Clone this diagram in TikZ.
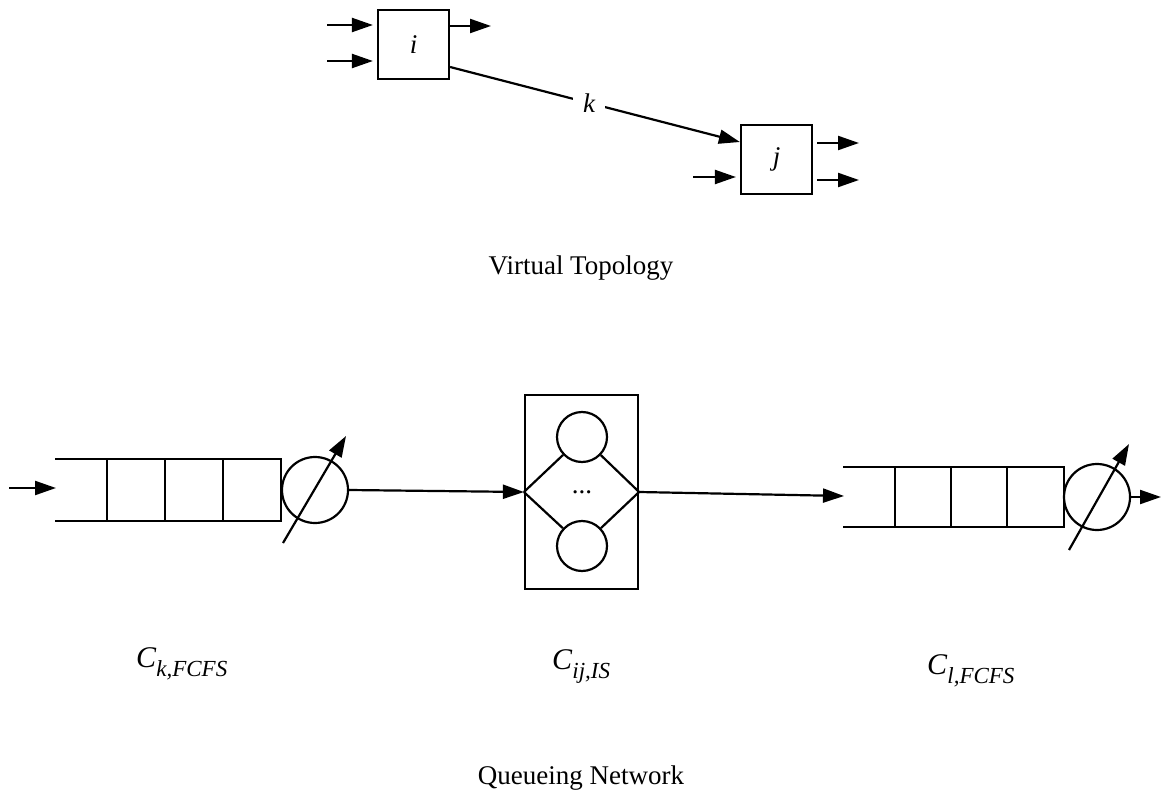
\documentclass[tikz,border=0pt]{standalone}
\usepackage{fontspec}
\setmainfont{Liberation Serif}
\usetikzlibrary{arrows.meta}
\newcommand\qlabel[2]{\textit{#1}\raisebox{-9pt}{\fontsize{23}{25}\selectfont\textit{#2}}}
\begin{document}
\begin{tikzpicture}[x=1pt,y=-1pt,line width=2.2pt,
  tip/.style={-{Triangle[length=21pt,width=14pt]}},
  nodebox/.style={draw,minimum width=71pt,minimum height=69pt,inner sep=0pt,
    font=\fontsize{27}{30}\selectfont\itshape},
  srv/.style={draw,circle,minimum size=66pt,inner sep=0pt},
  isrv/.style={draw,circle,minimum size=50pt,inner sep=0pt},
  caption/.style={font=\fontsize{27}{30}\selectfont},
  qtext/.style={font=\fontsize{30}{32}\selectfont,inner sep=0pt,anchor=base west}]
\useasboundingbox (0,0) rectangle (1161,805);

% ---- virtual topology ----
\node[nodebox] (i) at (413.5,44.5) {i};
\node[nodebox] (j) at (776.5,159.5) {j};

\coordinate (iin1) at (327,25);
\coordinate (iin2) at (327,61);
\coordinate (iout) at (491,26);
\draw[tip,shorten >=4pt] (iin1) -- ([yshift=19.5pt]i.west);
\draw[tip,shorten >=4pt] (iin2) -- ([yshift=-16.5pt]i.west);
\draw[tip] ([yshift=18.5pt]i.east) -- (iout);

\draw[tip] ([yshift=-22.5pt]i.east) --
  node[pos=0.48,fill=white,inner xsep=10pt,inner ysep=2pt,
       font=\fontsize{27}{30}\selectfont\itshape] (k) {k}
  ([yshift=17.5pt]j.west);

\coordinate (jin) at (693,177);
\coordinate (jout1) at (859,143);
\coordinate (jout2) at (859,180);
\draw[tip,shorten >=4pt] (jin) -- ([yshift=-17.5pt]j.west);
\draw[tip,shorten <=4pt] ([yshift=16.5pt]j.east) -- (jout1);
\draw[tip,shorten <=4pt] ([yshift=-20.5pt]j.east) -- (jout2);

\node[caption] (vt) at (581,268) {Virtual Topology};

% ---- left FCFS queue ----
\draw (55,459) -- (281,459) -- (281,521) -- (55,521);
\foreach \x in {107,165,223} \draw (\x,459) -- (\x,521);
\node[srv] (sa) at (315,490) {};
\coordinate (ain) at (9,488);
\coordinate (aq) at (56,488);
\draw[tip] (ain) -- (aq);
\coordinate (adiag0) at (283,543);
\coordinate (adiag1) at (346,436);
\draw[tip] (adiag0) -- (adiag1);

% ---- infinite server station ----
\node[draw,minimum width=113pt,minimum height=194pt,inner sep=0pt] (is) at (581.5,492) {};
\node[isrv] (up) at (582,437) {};
\node[isrv] (lo) at (582,546) {};
\coordinate (cl) at (is.west);
\coordinate (cr) at (is.east);
\draw (cl) -- (up) -- (cr);
\draw (cl) -- (lo) -- (cr);
\node[font=\fontsize{27}{30}\selectfont] (dots) at (582,492) {...};

\draw[tip] (sa.east) -- (cl);

% ---- right FCFS queue ----
\draw (843,467) -- (1064,467) -- (1064,527) -- (843,527);
\foreach \x in {895,951,1007} \draw (\x,467) -- (\x,527);
\node[srv] (sb) at (1097,497) {};
\coordinate (bq) at (844,496);
\draw[tip] (cr) -- (bq);
\coordinate (bout) at (1161,497);
\draw[tip] (sb.east) -- (bout);
\coordinate (bdiag0) at (1069,550);
\coordinate (bdiag1) at (1129,444);
\draw[tip] (bdiag0) -- (bdiag1);

% ---- class labels ----
\node[qtext] (lk) at (135,667) {\qlabel{C}{k,FCFS}};
\node[qtext] (lij) at (551,669) {\qlabel{C}{ij,IS}};
\node[qtext] (ll) at (926,674) {\qlabel{C}{l,FCFS}};

\node[caption] (qn) at (581,778) {Queueing Network};
\end{tikzpicture}
\end{document}
